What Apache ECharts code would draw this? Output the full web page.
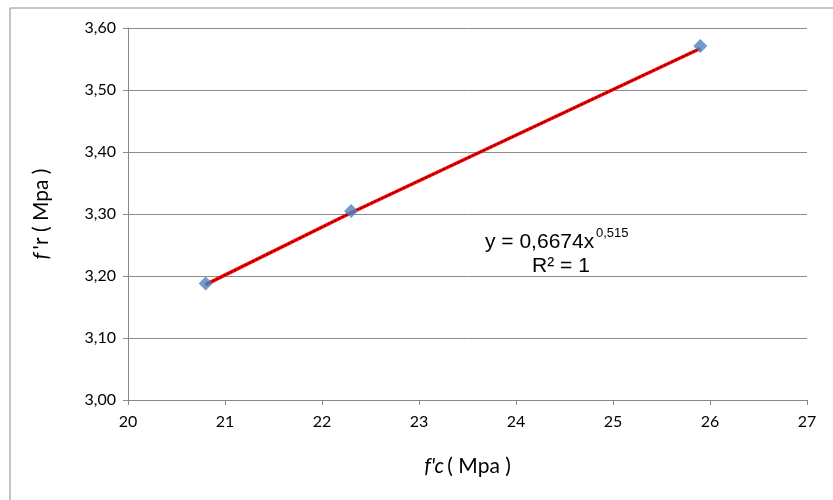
<!DOCTYPE html>
<html><head><meta charset="utf-8">
<script src="https://cdn.jsdelivr.net/npm/echarts@6/dist/echarts.min.js"></script>
<style>html,body{margin:0;padding:0;background:#fff}#c{width:833px;height:500px}</style>
</head><body><div id="c"></div>
<script>
const fc = [20.8, 22.3, 25.9];
const fr = [3.188, 3.305, 3.571];
const trendX = [20.8, 22.3, 25.9];
const trendY = [3.186, 3.302, 3.567];
const xTicks = [20, 21, 22, 23, 24, 25, 26, 27];
const yTicks = [3.00, 3.10, 3.20, 3.30, 3.40, 3.50, 3.60];
const eqText = ['y = 0,6674x', '0,515', 'R² = 1'];

const chart = echarts.init(document.getElementById('c'), null, {renderer: 'canvas'});
const tickFont = 'Lato, "Liberation Sans", sans-serif';
chart.setOption({
  animation: false,
  grid: {left: 128, right: 26, top: 28, bottom: 100},
  xAxis: {
    type: 'value', min: xTicks[0], max: xTicks[xTicks.length-1], interval: 1,
    axisLine: {show: true, lineStyle: {color: '#888', width: 1}},
    axisTick: {show: true, length: 5, lineStyle: {color: '#888'}},
    splitLine: {show: false},
    axisLabel: {color: '#000', fontSize: 16, fontFamily: tickFont, margin: 14},
    name: '{i|f\'c} {n|( Mpa )}', nameLocation: 'middle', nameGap: 56,
    nameTextStyle: {rich: {
      i: {fontStyle: 'italic', fontSize: 21, fontFamily: tickFont, color: '#000'},
      n: {fontSize: 21, fontFamily: tickFont, color: '#000'}
    }}
  },
  yAxis: {
    type: 'value', min: yTicks[0], max: yTicks[yTicks.length-1], interval: 0.1,
    axisLine: {show: true, lineStyle: {color: '#888', width: 1}},
    axisTick: {show: true, length: 5, lineStyle: {color: '#888'}},
    splitLine: {show: true, lineStyle: {color: '#8c8c8c', width: 1}},
    axisLabel: {color: '#000', fontSize: 16, fontFamily: tickFont, margin: 12,
      formatter: v => v.toFixed(2).replace('.', ',')},
    name: '{i|f} {n|\'r ( Mpa )}', nameLocation: 'middle', nameGap: 76, nameRotate: 90,
    nameTextStyle: {rich: {
      i: {fontStyle: 'italic', fontSize: 21, fontFamily: tickFont, color: '#000'},
      n: {fontSize: 21, fontFamily: tickFont, color: '#000'}
    }}
  },
  graphic: [
    {type: 'rect', z: -10, silent: true, shape: {x: 10, y: 8, width: 840, height: 520},
     style: {fill: 'none', stroke: '#8a8a8a', lineWidth: 1}},
    {type: 'text', z: 100, x: 485, y: 232, style: {
      text: eqText[0], font: '21px "Liberation Sans", Arial, sans-serif', fill: '#000'}},
    {type: 'text', z: 100, x: 596, y: 227, style: {
      text: eqText[1], font: '13px "Liberation Sans", Arial, sans-serif', fill: '#000'}},
    {type: 'text', z: 100, x: 561, y: 256, style: {
      text: eqText[2], font: '21px "Liberation Sans", Arial, sans-serif', fill: '#000', textAlign: 'center'}}
  ],
  series: [
    {type: 'line', data: trendX.map((x, i) => [x, trendY[i]]), symbol: 'none', z: 2,
     lineStyle: {color: '#ff0000', width: 3.5}},
    {type: 'line', data: trendX.map((x, i) => [x, trendY[i]]), symbol: 'none', z: 3,
     lineStyle: {color: '#000', width: 1, type: [2, 2]}},
    {type: 'scatter', data: fc.map((x, i) => [x, fr[i]]), symbol: 'diamond', symbolSize: 14, z: 4,
     itemStyle: {color: '#4f81bd'}}
  ]
});
</script></body></html>
